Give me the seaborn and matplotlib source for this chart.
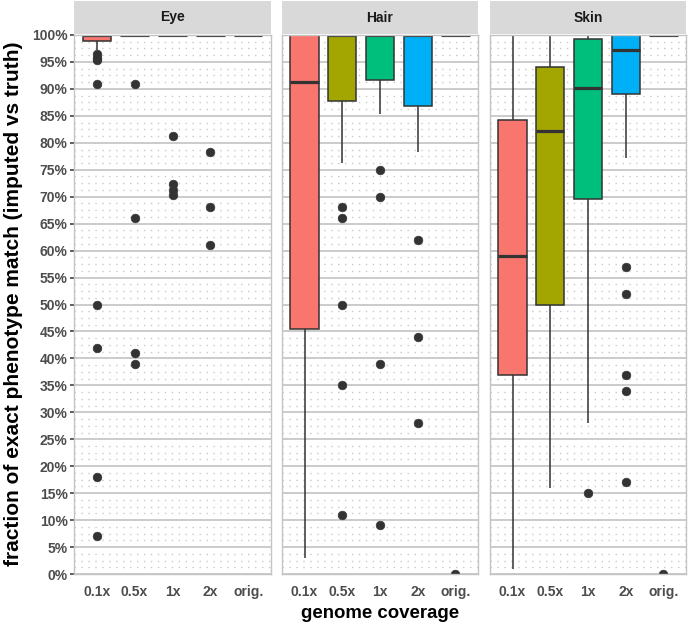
import numpy as np
import pandas as pd
import seaborn as sns
import matplotlib
matplotlib.use("Agg")
import matplotlib.pyplot as plt
from matplotlib.patches import Rectangle
from matplotlib.ticker import MultipleLocator, FixedLocator

# ---------------- data (percent exact match per sample) ----------------
coverage = ["0.1x", "0.5x", "1x", "2x", "orig."]
traits = ["Eye", "Hair", "Skin"]
palette = ["#F8766D", "#A3A500", "#00BF7D", "#00B0F6", "#E76BF3"]

eye_01 = [7, 18, 42, 50, 91, 95.3, 95.8, 96.5, 97.2, 98.0, 98.8, 99.2, 99.5, 99.7,
          100, 100, 100, 100, 100, 100, 100, 100, 100, 100, 100, 100, 100, 100,
          100, 100, 100, 100, 100, 100, 100, 100, 100, 100, 100, 100, 100]
eye_05 = [39, 41, 66, 91,
          100, 100, 100, 100, 100, 100, 100, 100, 100, 100, 100, 100, 100,
          100, 100, 100, 100, 100, 100, 100, 100, 100, 100, 100, 100, 100,
          100, 100, 100, 100, 100, 100, 100, 100, 100, 100, 100]
eye_1 = [70.4, 71.3, 72.3, 81.2,
         100, 100, 100, 100, 100, 100, 100, 100, 100, 100, 100, 100, 100,
         100, 100, 100, 100, 100, 100, 100, 100, 100, 100, 100, 100, 100,
         100, 100, 100, 100, 100, 100, 100, 100, 100, 100, 100]
eye_2 = [61, 68, 78.3,
         100, 100, 100, 100, 100, 100, 100, 100, 100, 100, 100, 100, 100,
         100, 100, 100, 100, 100, 100, 100, 100, 100, 100, 100, 100, 100,
         100, 100, 100, 100, 100, 100, 100, 100, 100, 100, 100, 100]
eye_orig = [100, 100, 100, 100, 100, 100, 100, 100, 100, 100, 100, 100, 100, 100,
            100, 100, 100, 100, 100, 100, 100, 100, 100, 100, 100, 100, 100, 100,
            100, 100, 100, 100, 100, 100, 100, 100, 100, 100, 100, 100, 100]

hair_01 = [3, 8, 14, 20, 25, 29, 33, 37, 40, 43, 45.5,
           52, 58, 63, 68, 72, 76, 80, 84, 88, 91.2,
           92, 93, 94, 95, 96, 97, 98, 99, 99.5,
           100, 100, 100, 100, 100, 100, 100, 100, 100, 100, 100]
hair_05 = [11, 35, 50, 66, 68, 76.3, 79, 82, 84, 86, 87.8,
           89, 90, 92, 93, 95, 96, 97, 98, 99,
           100, 100, 100, 100, 100, 100, 100, 100, 100, 100, 100,
           100, 100, 100, 100, 100, 100, 100, 100, 100, 100]
hair_1 = [9, 39, 70, 75, 85.3, 87, 88, 89, 90, 91, 91.7,
          93, 94, 95, 96, 97, 98, 98.5, 99, 99.5,
          100, 100, 100, 100, 100, 100, 100, 100, 100, 100, 100,
          100, 100, 100, 100, 100, 100, 100, 100, 100, 100]
hair_2 = [28, 44, 62, 78.3, 80, 81.5, 83, 84, 85, 86, 86.8,
          88, 89.5, 91, 92.5, 94, 95.5, 97, 98, 99,
          100, 100, 100, 100, 100, 100, 100, 100, 100, 100, 100,
          100, 100, 100, 100, 100, 100, 100, 100, 100, 100]
hair_orig = [0, 100, 100, 100, 100, 100, 100, 100, 100, 100, 100, 100, 100, 100,
             100, 100, 100, 100, 100, 100, 100, 100, 100, 100, 100, 100, 100, 100,
             100, 100, 100, 100, 100, 100, 100, 100, 100, 100, 100, 100, 100]

skin_01 = [1, 5, 9, 13, 17, 21, 25, 28, 31, 34, 37,
           40, 43, 45, 47, 49, 51, 53, 55, 57, 59,
           62, 65, 68, 70, 72, 75, 78, 80, 82, 84.2,
           86, 88, 90, 92, 94, 96, 97, 98, 99, 100]
skin_05 = [16, 20, 24, 28, 32, 36, 39, 42, 45, 48, 50,
           54, 58, 62, 65, 68, 71, 74, 77, 80, 82.2,
           84, 85, 86, 87, 88, 89, 90, 91, 92.5, 94.1,
           95, 95.5, 96, 96.5, 97, 97.5, 98, 99, 99.5, 100]
skin_1 = [15, 28.1, 35, 42, 48, 53, 57, 61, 64, 67, 69.6,
          72, 74, 76, 78, 80, 82, 84, 86, 88, 90.2,
          91, 92, 93, 94, 95, 96, 97, 98, 98.5, 99.3,
          99.4, 99.5, 99.6, 99.7, 99.8, 99.9, 100, 100, 100, 100]
skin_2 = [17, 34, 37, 52, 57, 77.2, 80, 83, 85, 87, 89,
          90, 91, 92, 93, 94, 95, 95.5, 96, 96.5, 97.3,
          97.5, 98, 98.5, 99, 99.5, 100, 100, 100, 100, 100,
          100, 100, 100, 100, 100, 100, 100, 100, 100, 100]
skin_orig = [0, 100, 100, 100, 100, 100, 100, 100, 100, 100, 100, 100, 100, 100,
             100, 100, 100, 100, 100, 100, 100, 100, 100, 100, 100, 100, 100, 100,
             100, 100, 100, 100, 100, 100, 100, 100, 100, 100, 100, 100, 100]

y_ticks = [0, 5, 10, 15, 20, 25, 30, 35, 40, 45, 50, 55, 60, 65, 70, 75, 80, 85, 90, 95, 100]
y_tick_labels = [f"{t}%" for t in y_ticks]

groups = {
    "Eye": [eye_01, eye_05, eye_1, eye_2, eye_orig],
    "Hair": [hair_01, hair_05, hair_1, hair_2, hair_orig],
    "Skin": [skin_01, skin_05, skin_1, skin_2, skin_orig],
}
rows = []
for trait in traits:
    for cov, vals in zip(coverage, groups[trait]):
        for v in vals:
            rows.append((trait, cov, v))
df = pd.DataFrame(rows, columns=["trait", "coverage", "value"])

# ---------------- figure ----------------
sns.set_style("white")
plt.rcParams["font.family"] = ["Liberation Sans", "DejaVu Sans"]

W, H = 688, 628
fig = plt.figure(figsize=(W / 100, H / 100), dpi=100)
panel_x = [(74, 271), (282, 478), (490, 686)]
top_px, bot_px = 35, 574

dark = "#333333"
for i, trait in enumerate(traits):
    x0, x1 = panel_x[i]
    ax = fig.add_axes([x0 / W, 1 - bot_px / H, (x1 - x0) / W, (bot_px - top_px) / H])
    ax.set_facecolor("white")
    sub = df[df["trait"] == trait]
    sns.boxplot(
        data=sub, x="coverage", y="value", hue="coverage",
        order=coverage, hue_order=coverage, palette=palette, legend=False,
        saturation=1, width=0.75, linewidth=1.1, linecolor=dark,
        showcaps=False, whis=1.5,
        flierprops=dict(marker="o", markersize=6.3, markerfacecolor=dark,
                        markeredgecolor=dark, markeredgewidth=0.4),
        medianprops=dict(linewidth=2.3, color=dark),
        whiskerprops=dict(linewidth=1.1, color=dark),
        ax=ax,
    )
    ax.set_xlim(-0.6, 4.6)
    ax.set_ylim(0, 100)
    ax.yaxis.set_major_locator(FixedLocator(y_ticks))
    ax.yaxis.set_minor_locator(MultipleLocator(1.25))
    ax.set_axisbelow(True)
    ax.grid(which="major", axis="y", color="#C2C2C2", linewidth=1.2)
    ax.grid(which="minor", axis="y", color="#C8C8C8", linewidth=1.0,
            linestyle=(0, (1, 4)))
    ax.grid(which="major", axis="x", visible=False)
    for s in ax.spines.values():
        s.set_color("#C4C4C4")
        s.set_linewidth(1.0)
    ax.tick_params(axis="x", length=0, pad=8, labelsize=10, labelcolor="#4D4D4D")
    ax.tick_params(axis="y", which="minor", length=0)
    for lab in ax.get_xticklabels():
        lab.set_fontweight("bold")
    if i == 0:
        ax.set_yticklabels(y_tick_labels)
        ax.tick_params(axis="y", which="major", length=3, width=1.1, color=dark,
                       pad=1.5, labelsize=10, labelcolor="#4D4D4D", left=True)
        for lab in ax.get_yticklabels():
            lab.set_fontweight("bold")
    else:
        ax.tick_params(axis="y", which="major", length=0, labelleft=False)
    ax.set_xlabel("")
    ax.set_ylabel("")
    # facet strip
    ax.add_patch(Rectangle((0, 1 + 1 / 539), 1, 33 / 539, transform=ax.transAxes,
                           clip_on=False, facecolor="#D9D9D9", edgecolor="none"))
    ax.text(0.5, 1 + 17.5 / 539, trait, transform=ax.transAxes, ha="center",
            va="center", fontsize=10, fontweight="bold", color="#1A1A1A")

fig.text(14 / W, 1 - 304 / H, "fraction of exact phenotype match (imputed vs truth)",
         rotation=90, ha="center", va="center", fontsize=15, fontweight="bold",
         color="black")
fig.text(380 / W, 1 - 614 / H, "genome coverage", ha="center", va="center",
         fontsize=13.4, fontweight="bold", color="black")

fig.savefig("out.png", dpi=100)
